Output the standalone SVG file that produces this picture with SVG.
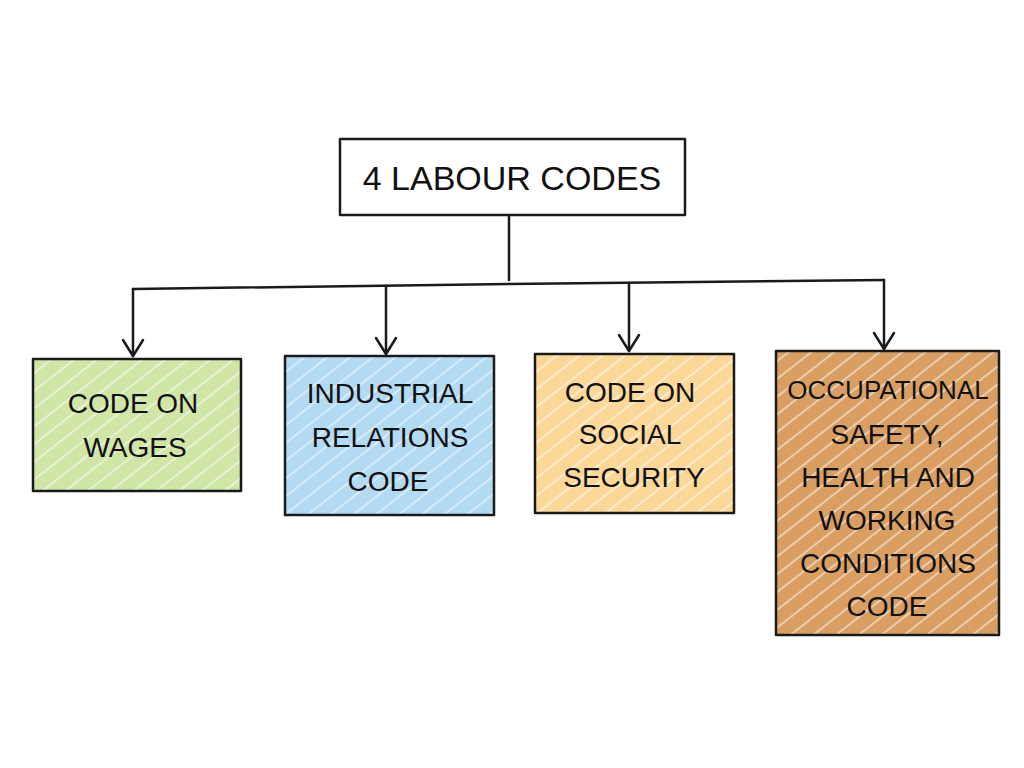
<svg xmlns="http://www.w3.org/2000/svg" width="1024" height="768" viewBox="0 0 1024 768">
<style>
.box{stroke:#1a1a1a;stroke-width:2.5;stroke-linejoin:round}
.lbl{font-family:"Liberation Sans","DejaVu Sans",sans-serif;font-size:28px;fill:#111;text-anchor:middle;dominant-baseline:central}
.con{fill:none;stroke:#1a1a1a;stroke-width:2.5;stroke-linecap:round;stroke-linejoin:round}
</style>
<defs>
<marker id="arr" viewBox="0 0 20 24" refX="18" refY="12" markerWidth="20" markerHeight="24" markerUnits="userSpaceOnUse" orient="auto">
<path d="M2 2 L18 12 L2 22" fill="none" stroke="#1a1a1a" stroke-width="2.5" stroke-linecap="round" stroke-linejoin="round"/>
</marker>
<pattern id="hatch" width="14" height="14" patternUnits="userSpaceOnUse" patternTransform="rotate(-38)">
<line x1="0" y1="7" x2="14" y2="7" stroke="#ffffff" stroke-width="1.6" stroke-opacity="0.6"/>
</pattern>
</defs>
<rect width="1024" height="768" fill="#ffffff"/>
<g id="connectors">
<path class="con" d="M509 216 L509 280"/>
<path class="con" d="M133 289 L509 284 L884 280"/>
<path class="con" d="M133 289 L133 356" marker-end="url(#arr)"/>
<path class="con" d="M386 286 L386 354" marker-end="url(#arr)"/>
<path class="con" d="M629 283 L629 351" marker-end="url(#arr)"/>
<path class="con" d="M884 280 L884 349" marker-end="url(#arr)"/>
</g>
<g id="root">
<rect class="box" x="340" y="139" width="345" height="76" fill="#ffffff"/>
<text class="lbl" x="512" y="178" style="font-size:34px">4 LABOUR CODES</text>
</g>
<g id="wages">
<rect x="33" y="359" width="208" height="132" fill="#cfe6a6"/>
<rect x="33" y="359" width="208" height="132" fill="url(#hatch)"/>
<rect class="box" x="33" y="359" width="208" height="132" fill="none"/>
<text class="lbl" x="133" y="403">CODE ON</text>
<text class="lbl" x="135" y="447">WAGES</text>
</g>
<g id="industrial">
<rect x="285" y="356" width="209" height="159" fill="#b2daf3"/>
<rect x="285" y="356" width="209" height="159" fill="url(#hatch)"/>
<rect class="box" x="285" y="356" width="209" height="159" fill="none"/>
<text class="lbl" x="390" y="393">INDUSTRIAL</text>
<text class="lbl" x="390" y="437">RELATIONS</text>
<text class="lbl" x="388" y="481">CODE</text>
</g>
<g id="social">
<rect x="535" y="354" width="199" height="159" fill="#fcd898"/>
<rect x="535" y="354" width="199" height="159" fill="url(#hatch)"/>
<rect class="box" x="535" y="354" width="199" height="159" fill="none"/>
<text class="lbl" x="630" y="392">CODE ON</text>
<text class="lbl" x="630" y="434">SOCIAL</text>
<text class="lbl" x="634" y="477">SECURITY</text>
</g>
<g id="occupational">
<rect x="776" y="351" width="223" height="284" fill="#d99f62"/>
<rect x="776" y="351" width="223" height="284" fill="url(#hatch)"/>
<rect class="box" x="776" y="351" width="223" height="284" fill="none"/>
<text class="lbl" x="888" y="390" style="font-size:26px">OCCUPATIONAL</text>
<text class="lbl" x="887" y="434">SAFETY,</text>
<text class="lbl" x="888" y="477">HEALTH AND</text>
<text class="lbl" x="887" y="520">WORKING</text>
<text class="lbl" x="888" y="563">CONDITIONS</text>
<text class="lbl" x="887" y="606">CODE</text>
</g>
</svg>
